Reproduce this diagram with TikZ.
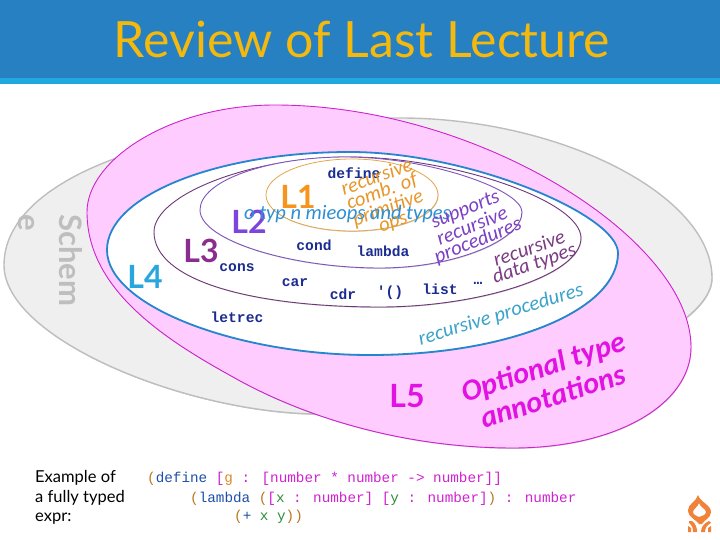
\documentclass[tikz,border=0pt]{standalone}
\usepackage{fontspec}
\setmainfont{Lato}
\newfontfamily\handfont{Carlito}
\newfontfamily\codefont{Liberation Mono}
\usetikzlibrary{shadows}
\definecolor{bannerblue}{HTML}{2780C2}
\definecolor{bandblue}{HTML}{22A8E0}
\definecolor{titleyellow}{HTML}{F4B90C}
\definecolor{schemegray}{HTML}{BEBEBE}
\definecolor{schemefill}{HTML}{EFEFEF}
\definecolor{pinkfill}{HTML}{FFCCFF}
\definecolor{pinkline}{HTML}{D020D0}
\definecolor{magentatext}{HTML}{E212E2}
\definecolor{lfourblue}{HTML}{2685CF}
\definecolor{lfourtext}{HTML}{2AA6DE}
\definecolor{teal}{HTML}{3BA3C9}
\definecolor{lthreeline}{HTML}{6F3578}
\definecolor{lthreetext}{HTML}{8B2C8F}
\definecolor{rectext}{HTML}{7C3A84}
\definecolor{ltwoline}{HTML}{7F55BD}
\definecolor{ltwotext}{HTML}{7C45DC}
\definecolor{suptext}{HTML}{7C40C4}
\definecolor{loneline}{HTML}{E6A648}
\definecolor{lonetext}{HTML}{F7941E}
\definecolor{orangetext}{HTML}{E8962A}
\definecolor{typeblue}{HTML}{2E90D2}
\definecolor{navy}{HTML}{1B2C90}
\definecolor{paren}{HTML}{B9771C}
\definecolor{kwblue}{HTML}{1F4FA8}
\definecolor{typepink}{HTML}{CF22CF}
\definecolor{varorange}{HTML}{D98A2B}
\definecolor{vargreen}{HTML}{2E8B3A}
\definecolor{logoorange}{HTML}{F0823A}
\tikzset{
	blob/.style={drop shadow={shadow xshift=.5pt,shadow yshift=-.8pt,opacity=.45}},
	levellabel/.style={font=\bfseries\fontsize{32}{32}\selectfont,inner sep=0pt},
	hand/.style={font=\handfont\itshape\fontsize{20.5}{12.5}\selectfont,align=center,inner sep=0pt},
	kw/.style={font=\codefont\bfseries\fontsize{14.6}{14.6}\selectfont,text=navy,inner sep=0pt},
	codeline/.style={font=\codefont\fontsize{14.3}{14.3}\selectfont,anchor=base west,inner sep=0pt},
	note/.style={font=\fontsize{16.5}{16.5}\selectfont,anchor=base west,inner sep=0pt}
}
\begin{document}
\begin{tikzpicture}[x=1pt,y=-1pt]
		\useasboundingbox (0,0) rectangle (720,540);
		\def\paren#1{\textcolor{paren}{#1}}
		\def\typ#1{\textcolor{typepink}{#1}}
		%banner
		\fill[bannerblue] (0,0) rectangle (720,78);
		\fill[bandblue] (0,78) rectangle (720,84);
		\node[text=titleyellow,font=\fontsize{50}{50}\selectfont,inner sep=0pt,anchor=base] (title) at (362,58) {Review of Last Lecture};
		%regions
		\draw[blob,fill=schemefill,draw=schemegray,line width=1.4] (4,265) .. controls (4,180) and (160,118) .. (400,118) .. controls (560,118) and (712,195) .. (712,278) .. controls (712,340) and (500,414) .. (320,414) .. controls (190,414) and (4,340) .. (4,265) -- cycle;
		\draw[blob,fill=pinkfill,draw=pinkline,line width=.9] (87,212) .. controls (87,160) and (170,105) .. (275,105) .. controls (480,105) and (691,240) .. (691,347) .. controls (691,405) and (615,448) .. (513,448) .. controls (400,448) and (300,415) .. (233,377) .. controls (166,340) and (87,290) .. (87,212) -- cycle;
		\draw[blob,fill=white,draw=lfourblue,line width=1.8] (107,250) .. controls (107,196) and (216,152) .. (350,152) .. controls (470,152) and (618,215) .. (618,253) .. controls (618,310) and (510,355) .. (370,355) .. controls (237,355) and (107,306) .. (107,250) -- cycle;
		\draw[blob,fill=white,draw=lthreeline,line width=.9] (154,232) .. controls (154,195) and (250,157) .. (350,157) .. controls (450,157) and (581,200) .. (581,238) .. controls (581,275) and (480,307) .. (380,307) .. controls (250,307) and (154,280) .. (154,232) -- cycle;
		\draw[blob,fill=white,draw=ltwoline,line width=.9] (200,210) .. controls (200,180) and (270,157) .. (345,157) .. controls (430,157) and (522,190) .. (522,212) .. controls (522,240) and (455,268) .. (380,268) .. controls (290,268) and (200,240) .. (200,210) -- cycle;
		\draw[blob,fill=white,draw=loneline,line width=.8] (352,195) ellipse (86 and 36);
		%level names
		\node[levellabel,text=lonetext] (Lone) at (298,197) {L1};
		\node[levellabel,text=ltwotext] (Ltwo) at (249,222) {L2};
		\node[levellabel,text=lthreetext] (Lthree) at (201,251) {L3};
		\node[levellabel,text=lfourtext] (Lfour) at (145,277) {L4};
		\node[levellabel,text=magentatext] (Lfive) at (407,396) {L5};
		\node[text=schemegray,font=\bfseries\fontsize{31}{41}\selectfont,rotate=-90,anchor=north west,align=left,inner sep=0pt] (scheme) at (83,214) {Schem\\e};
		%keywords
		\node[kw] (define) at (354,173) {define};
		\node[kw] (cond) at (314,245) {cond};
		\node[kw] (lambda) at (383,251) {lambda};
		\node[kw] (cons) at (237,268) {cons};
		\node[kw] (car) at (295,283) {car};
		\node[kw] (cdr) at (343,294) {cdr};
		\node[kw] (quote) at (390,293) {'()};
		\node[kw] (list) at (440,289) {list};
		\node[kw] (more) at (478,283) {…};
		\node[kw] (letrec) at (237,317) {letrec};
		%handwritten notes
		\node[hand,text=orangetext,rotate=20] (primnote) at (385,200) {recursive\\comb. of\\primitive\\ops};
		\node[hand,text=typeblue,anchor=base west] (typenote) at (244,219) {o typ n mieops and types};
		\node[hand,text=suptext,rotate=22] (supnote) at (472,226) {supports\\recursive\\procedures};
		\node[hand,text=rectext,rotate=19] (recnote) at (532,257) {recursive\\data types};
		\node[hand,text=teal,rotate=17] (procnote) at (501,315) {recursive procedures};
		\node[hand,font=\handfont\itshape\bfseries\fontsize{30}{31}\selectfont,text=magentatext,rotate=18] (optnote) at (548,381) {Optional type\\annotations};
		%example
		\node[note] (extext) at (35,482) {Example of};
		\node[note] (extexttwo) at (35,502) {a fully typed};
		\node[note] (extextthree) at (35,521) {expr:};
		\node[codeline] (codeone) at (147,482) {\paren{(}\textcolor{kwblue}{define} \typ{[}\textcolor{varorange}{g} \typ{:} \typ{[number * number -> number]]}};
		\node[codeline] (codetwo) at (190,502) {\paren{(}\textcolor{kwblue}{lambda} \paren{(}\typ{[}\textcolor{vargreen}{x} \typ{: number] [}\textcolor{vargreen}{y} \typ{: number]}\paren{)} \typ{: number}};
		\node[codeline] (codethree) at (234,520) {\paren{(}\textcolor{kwblue}{+} \textcolor{vargreen}{x y}\paren{))}};
		%logo
		\fill[logoorange,even odd rule] (698,495) .. controls (700,502) and (711,505) .. (711,512) .. controls (711,518) and (704,520) .. (702,524) -- (699,524) .. controls (697,520) and (688,518) .. (688,510) .. controls (688,504) and (696,502) .. (698,495) -- cycle
			(699,503) .. controls (698,507) and (693,509) .. (693,512) .. controls (693,515) and (697,516) .. (699,517) .. controls (702,516) and (706,515) .. (706,512) .. controls (706,509) and (700,507) .. (699,503) -- cycle;
		\fill[logoorange] (689,521) -- (692,521) .. controls (696,524) and (697,528) .. (697,532) -- (693,532) .. controls (693,528) and (692,525) .. (689,523) -- cycle;
		\fill[logoorange] (688,526) -- (691,528) -- (691,532) -- (688,532) -- cycle;
		\fill[logoorange] (701,532) .. controls (701,527) and (704,523) .. (709,521) -- (711,523) .. controls (707,525) and (705,528) .. (705,532) -- cycle;
		\fill[logoorange] (708,532) -- (708,528) -- (711,526) -- (711,532) -- cycle;
	\end{tikzpicture}
\end{document}
